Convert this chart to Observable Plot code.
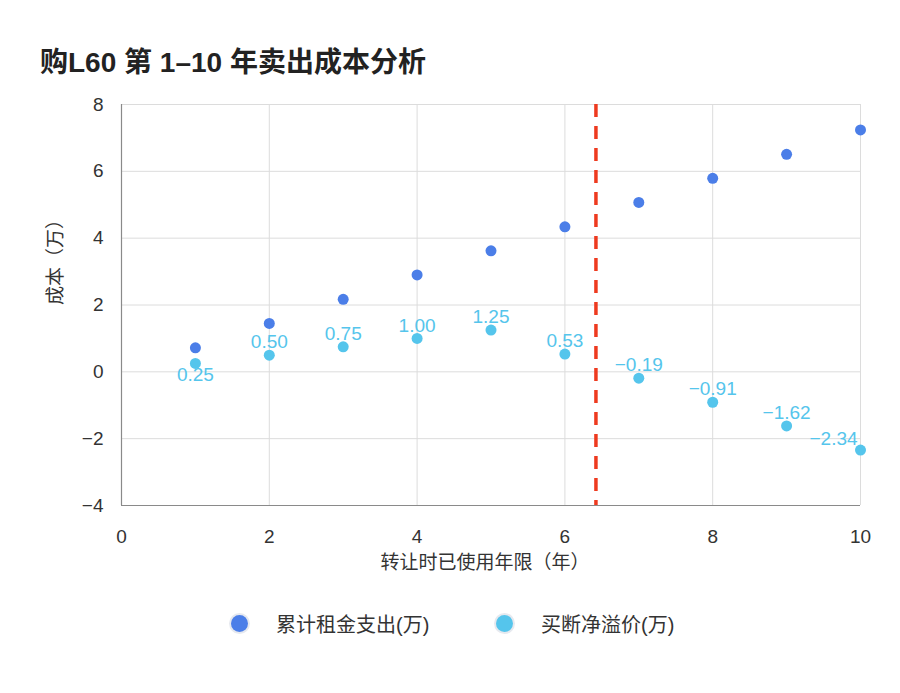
<!DOCTYPE html>
<html>
<head>
<meta charset="utf-8">
<script src="https://cdn.jsdelivr.net/npm/d3@7"></script>
<script src="https://cdn.jsdelivr.net/npm/@observablehq/plot@0.6"></script>
<style>
  html, body { margin: 0; padding: 0; background: #fff; }
  body { width: 900px; height: 693px; position: relative; overflow: hidden;
         font-family: "Liberation Sans", "Noto Sans CJK SC", sans-serif; }
  #title { position: absolute; left: 40px; top: 40px; font-size: 28px; font-weight: bold; color: #222; white-space: nowrap; }
  #chart { position: absolute; left: 0; top: 90px; }
  .leg { position: absolute; top: 609px; display: flex; align-items: center; font-size: 20px; color: #333; white-space: nowrap; }
  .sw { width: 17px; height: 17px; border-radius: 50%; box-shadow: 0 0 0 2px #e6e9ef; margin-right: 28px; }
</style>
</head>
<body>
<div id="title">购L60 第 1–10 年卖出成本分析</div>
<div id="chart"></div>
<div class="leg" style="left:231px"><div class="sw" style="background:#4b7ee8"></div><span>累计租金支出(万)</span></div>
<div class="leg" style="left:496px"><div class="sw" style="background:#55c5ec"></div><span>买断净溢价(万)</span></div>
<script>
const years = [1, 2, 3, 4, 5, 6, 7, 8, 9, 10];
const rentCum = [0.72, 1.45, 2.17, 2.90, 3.62, 4.34, 5.07, 5.79, 6.51, 7.24];
const netPremium = [0.25, 0.50, 0.75, 1.00, 1.25, 0.53, -0.19, -0.91, -1.62, -2.34];
const breakEven = 6.42;
const xTicks = [0, 2, 4, 6, 8, 10];
const yTicks = [-4, -2, 0, 2, 4, 6, 8];
const xLabel = "转让时已使用年限（年）";
const yLabel = "成本（万）";

const blue = "#4b7ee8";
const cyan = "#55c5ec";

const rentData = years.map((x, i) => ({x, y: rentCum[i]}));
const premData = years.map((x, i) => ({x, y: netPremium[i], label: netPremium[i].toFixed(2).replace("-", "−")}));
const premFirst = premData.slice(0, 1);
const premMid = premData.slice(1, premData.length - 1);
const premLast = premData.slice(premData.length - 1);

const fmt = d => String(d).replace("-", "−");

const plot = Plot.plot({
  width: 900,
  height: 500,
  marginLeft: 121,
  marginRight: 40,
  marginTop: 14,
  marginBottom: 85,
  style: { fontFamily: '"Liberation Sans", "Noto Sans CJK SC", sans-serif', fontSize: "19px", color: "#333", background: "transparent" },
  x: { domain: [0, 10], axis: null },
  y: { domain: [-4, 8], axis: null },
  marks: [
    Plot.ruleY(yTicks.filter(d => d > -4), { stroke: "#dcdcdc", strokeWidth: 1 }),
    Plot.ruleX(xTicks.filter(d => d > 0), { stroke: "#dcdcdc", strokeWidth: 1 }),
    Plot.ruleX([0], { stroke: "#8a8a8a", strokeWidth: 1.2 }),
    Plot.ruleY([-4], { stroke: "#8a8a8a", strokeWidth: 1.2 }),
    Plot.axisX(xTicks, { tickSize: 0, tickPadding: 24, tickFormat: fmt, label: null, fontSize: 19, fill: "#333" }),
    Plot.axisY(yTicks, { tickSize: 0, tickPadding: 18, tickFormat: fmt, label: null, fontSize: 19, fill: "#333" }),
    Plot.ruleX([breakEven], { stroke: "#ee3a1f", strokeWidth: 3.5, strokeDasharray: "13,9" }),
    Plot.dot(rentData, { x: "x", y: "y", r: 5.5, fill: blue, stroke: null }),
    Plot.dot(premData, { x: "x", y: "y", r: 5.5, fill: cyan, stroke: null }),
    Plot.text(premFirst, { x: "x", y: "y", text: "label", fill: cyan, fontSize: 19, dy: 11 }),
    Plot.text(premMid, { x: "x", y: "y", text: "label", fill: cyan, fontSize: 19, dy: -13 }),
    Plot.text(premLast, { x: "x", y: "y", text: "label", fill: cyan, fontSize: 19, dx: -27, dy: -11 }),
    Plot.text([xLabel], { frameAnchor: "bottom", dy: 63, dx: -6, fill: "#333", fontSize: 19 }),
    Plot.text([yLabel], { frameAnchor: "left", dx: -66, rotate: -90, fill: "#333", fontSize: 19 })
  ]
});
document.getElementById("chart").appendChild(plot);
</script>
</body>
</html>
